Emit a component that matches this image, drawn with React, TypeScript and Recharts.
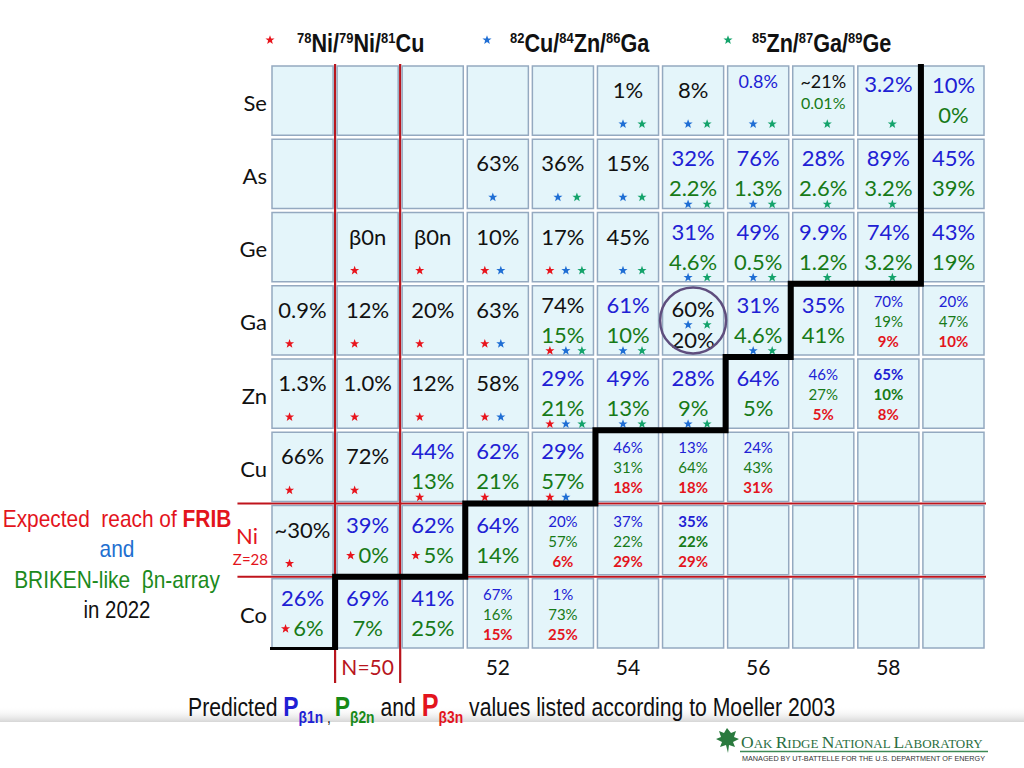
import React from "react"
import { ScatterChart, Scatter, XAxis, YAxis, ReferenceLine, ReferenceDot } from "recharts"

const N_VALUES = [49, 50, 51, 52, 53, 54, 55, 56, 57, 58, 59]
const Z_VALUES = [27, 28, 29, 30, 31, 32, 33, 34]
const ELEMENTS = ["Co", "Ni", "Cu", "Zn", "Ga", "Ge", "As", "Se"]
const N_TICKS = [50, 52, 54, 56, 58]

// first line of each cell: [N, Z, value, measured]
const P1N: [number, number, string, boolean?][] = [
  [54, 34, "1%", true], [55, 34, "8%", true], [56, 34, "0.8%"], [57, 34, "~21%", true], [58, 34, "3.2%"], [59, 34, "10%"],
  [52, 33, "63%", true], [53, 33, "36%", true], [54, 33, "15%", true], [55, 33, "32%"], [56, 33, "76%"], [57, 33, "28%"], [58, 33, "89%"], [59, 33, "45%"],
  [50, 32, "β0n", true], [51, 32, "β0n", true], [52, 32, "10%", true], [53, 32, "17%", true], [54, 32, "45%", true], [55, 32, "31%"], [56, 32, "49%"], [57, 32, "9.9%"], [58, 32, "74%"], [59, 32, "43%"],
  [49, 31, "0.9%", true], [50, 31, "12%", true], [51, 31, "20%", true], [52, 31, "63%", true], [53, 31, "74%", true], [54, 31, "61%"], [55, 31, "60%", true], [56, 31, "31%"], [57, 31, "35%"], [58, 31, "70%"], [59, 31, "20%"],
  [49, 30, "1.3%", true], [50, 30, "1.0%", true], [51, 30, "12%", true], [52, 30, "58%", true], [53, 30, "29%"], [54, 30, "49%"], [55, 30, "28%"], [56, 30, "64%"], [57, 30, "46%"], [58, 30, "65%"],
  [49, 29, "66%", true], [50, 29, "72%", true], [51, 29, "44%"], [52, 29, "62%"], [53, 29, "29%"], [54, 29, "46%"], [55, 29, "13%"], [56, 29, "24%"],
  [49, 28, "~30%", true], [50, 28, "39%"], [51, 28, "62%"], [52, 28, "64%"], [53, 28, "20%"], [54, 28, "37%"], [55, 28, "35%"],
  [49, 27, "26%"], [50, 27, "69%"], [51, 27, "41%"], [52, 27, "67%"], [53, 27, "1%"],
]

// second line: P(beta 2n)
const P2N: [number, number, string, boolean?][] = [
  [57, 34, "0.01%"], [59, 34, "0%"],
  [55, 33, "2.2%"], [56, 33, "1.3%"], [57, 33, "2.6%"], [58, 33, "3.2%"], [59, 33, "39%"],
  [55, 32, "4.6%"], [56, 32, "0.5%"], [57, 32, "1.2%"], [58, 32, "3.2%"], [59, 32, "19%"],
  [53, 31, "15%"], [54, 31, "10%"], [55, 31, "20%", true], [56, 31, "4.6%"], [57, 31, "41%"], [58, 31, "19%"], [59, 31, "47%"],
  [53, 30, "21%"], [54, 30, "13%"], [55, 30, "9%"], [56, 30, "5%"], [57, 30, "27%"], [58, 30, "10%"],
  [51, 29, "13%"], [52, 29, "21%"], [53, 29, "57%"], [54, 29, "31%"], [55, 29, "64%"], [56, 29, "43%"],
  [50, 28, "0%"], [51, 28, "5%"], [52, 28, "14%"], [53, 28, "57%"], [54, 28, "22%"], [55, 28, "22%"],
  [49, 27, "6%"], [50, 27, "7%"], [51, 27, "25%"], [52, 27, "16%"], [53, 27, "73%"],
]

// third line: P(beta 3n)
const P3N: [number, number, string][] = [
  [58, 31, "9%"], [59, 31, "10%"],
  [57, 30, "5%"], [58, 30, "8%"],
  [54, 29, "18%"], [55, 29, "18%"], [56, 29, "31%"],
  [53, 28, "6%"], [54, 28, "29%"], [55, 28, "29%"],
  [52, 27, "15%"], [53, 27, "25%"],
]

// r = 78Ni/79Ni/81Cu, b = 82Cu/84Zn/86Ga, g = 85Zn/87Ga/89Ge
const STARS: [number, number, string][] = [
  [54, 34, "bg"], [55, 34, "bg"], [56, 34, "bg"], [57, 34, "g"], [58, 34, "g"],
  [52, 33, "b"], [53, 33, "bg"], [54, 33, "bg"], [55, 33, "bg"], [56, 33, "bg"], [57, 33, "g"], [58, 33, "g"],
  [50, 32, "r"], [51, 32, "r"], [52, 32, "rb"], [53, 32, "rbg"], [54, 32, "bg"], [55, 32, "bg"], [56, 32, "bg"], [57, 32, "g"], [58, 32, "g"],
  [49, 31, "r"], [50, 31, "r"], [51, 31, "r"], [52, 31, "rb"], [53, 31, "rbg"], [54, 31, "bg"], [55, 31, "bg"], [56, 31, "bg"],
  [49, 30, "r"], [50, 30, "r"], [51, 30, "r"], [52, 30, "rb"], [53, 30, "rbg"], [54, 30, "bg"], [55, 30, "bg"],
  [49, 29, "r"], [50, 29, "r"], [51, 29, "r"], [52, 29, "r"], [53, 29, "rb"],
  [49, 28, "r"], [50, 28, "r"], [51, 28, "r"],
  [49, 27, "r"],
]

const BOLD_CELLS = ["55-28", "58-30"]
const INLINE_STAR = ["49-27", "50-28", "51-28"]
const SMALL_CELLS = ["56-34", "57-34"]

// reach boundary
const STAIRS = [
  { n: 48.47, z: 26.5 }, { n: 49.5, z: 26.5 }, { n: 49.5, z: 27.5 }, { n: 51.5, z: 27.5 },
  { n: 51.5, z: 28.5 }, { n: 53.5, z: 28.5 }, { n: 53.5, z: 29.5 }, { n: 55.5, z: 29.5 },
  { n: 55.5, z: 30.5 }, { n: 56.5, z: 30.5 }, { n: 56.5, z: 31.5 }, { n: 58.5, z: 31.5 },
  { n: 58.5, z: 34.58 },
]

const PLOT_L = 270
const PLOT_R = 986
const PLOT_T = 64
const PLOT_B = 650
const CELL_W = (PLOT_R - PLOT_L) / N_VALUES.length
const CELL_H = (PLOT_B - PLOT_T) / Z_VALUES.length

const FONT = "Lato, 'Open Sans', sans-serif"
const SANS = "'Liberation Sans', Arial, sans-serif"
const BLACK = "#111"
const BLUE = "#2020d4"
const GREEN = "#177a17"
const RED = "#e3141c"
const DARKRED = "#b8151d"
const STAR_COLORS: Record<string, string> = { r: "#e8141c", b: "#1f6ed4", g: "#14a36b" }

const toMap = (rows: any[]) => {
  const m = new Map<string, any>()
  rows.forEach((r) => m.set(`${r[0]}-${r[1]}`, { v: r[2], measured: !!r[3] }))
  return m
}
const P1_MAP = toMap(P1N)
const P2_MAP = toMap(P2N)
const P3_MAP = toMap(P3N)
const STAR_MAP = new Map(STARS.map((s) => [`${s[0]}-${s[1]}`, s[2]]))

const GRID = Z_VALUES.flatMap((z) => N_VALUES.map((n) => ({ n, z })))

function starPath(x: number, y: number, R = 4.8, r = 2) {
  const pts: string[] = []
  for (let i = 0; i < 10; i++) {
    const a = -Math.PI / 2 + (i * Math.PI) / 5
    const rad = i % 2 === 0 ? R : r
    pts.push(`${(x + rad * Math.cos(a)).toFixed(2)},${(y + rad * Math.sin(a)).toFixed(2)}`)
  }
  return `M${pts.join("L")}Z`
}

function Star({ x, y, c }: { x: number; y: number; c: string }) {
  return <path d={starPath(x, y)} fill={STAR_COLORS[c]} />
}

function CellShape(props: any) {
  const { cx, cy, payload } = props
  if (cx == null || cy == null) return <g />
  const key = `${payload.n}-${payload.z}`
  const x0 = cx - CELL_W / 2
  const y0 = cy - CELL_H / 2
  const p1 = P1_MAP.get(key)
  const p2 = P2_MAP.get(key)
  const p3 = P3_MAP.get(key)
  const stars: string = STAR_MAP.get(key) || ""
  const bold = BOLD_CELLS.includes(key)
  const small = SMALL_CELLS.includes(key)
  const inline = INLINE_STAR.includes(key)
  const out: React.ReactNode[] = []

  if (p3) {
    const ys = [23, 43, 63]
    const cols = [BLUE, GREEN, RED]
    ;[p1, p2, p3].forEach((p, i) =>
      out.push(
        <text key={i} x={cx} y={y0 + ys[i]} textAnchor="middle" fontSize={15} fontFamily={FONT}
          fontWeight={bold || i === 2 ? 700 : 400} fill={cols[i]}>{p.v}</text>
      )
    )
  } else {
    const both = p1 && p2 && p1.measured && p2.measured
    let y1 = p2 ? (both ? 33 : 29) : p1 && p1.measured ? 34 : 28
    let y2 = both ? 64 : 59
    let f1 = 22
    let f2 = 22
    if (small) {
      y1 = 24
      y2 = 45
      f1 = 18
      f2 = 16
    }
    if (p1)
      out.push(
        <text key="a" x={cx} y={y0 + y1} textAnchor="middle" fontSize={f1} fontFamily={FONT}
          fill={p1.measured ? BLACK : BLUE}>{p1.v}</text>
      )
    if (p2)
      out.push(
        <text key="b" x={cx + (inline ? 6 : 0)} y={y0 + y2} textAnchor="middle" fontSize={f2} fontFamily={FONT}
          fill={p2.measured ? BLACK : GREEN}>{p2.v}</text>
      )
  }

  if (stars) {
    const hasR = stars.includes("r")
    const hasB = stars.includes("b")
    let sy = y0 + (p2 && !p3 ? 67 : 60)
    if (small) sy = y0 + 60
    if (p1 && p2 && p1.measured && p2.measured) sy = y0 + 41
    stars.split("").forEach((c) => {
      let dx = 0
      if (c === "r") dx = inline ? -17 : -13
      if (c === "b") dx = hasR ? 3 : -5
      if (c === "g") dx = hasR ? 19 : hasB ? 14 : 4
      const yy = inline ? y0 + 52 : sy
      out.push(<Star key={"s" + c} x={cx + dx} y={yy} c={c} />)
    })
  }

  return (
    <g>
      <rect x={x0 + 2} y={y0 + 2} width={CELL_W - 4} height={CELL_H - 4} fill="#e4f5fa" stroke="#94a9c0" strokeWidth={1.5} />
      {out}
    </g>
  )
}

function ZTick(props: any) {
  const { x, y, payload } = props
  const z = payload.value
  const name = ELEMENTS[Z_VALUES.indexOf(z)]
  if (z === 28)
    return (
      <g>
        <text x={x - 12} y={y + 4} textAnchor="end" fontSize={22} fontFamily={FONT} fill={RED}>{name}</text>
        <text x={x - 2} y={y + 25} textAnchor="end" fontSize={15} fontFamily={FONT} fill={RED}>Z=28</text>
      </g>
    )
  return (
    <text x={x - 3} y={y + 10} textAnchor="end" fontSize={22} fontFamily={FONT} fill={BLACK}>{name}</text>
  )
}

function NTick(props: any) {
  const { x, y, payload } = props
  const v = payload.value
  return (
    <text x={x} y={y + 25} textAnchor="middle" fontSize={21} fontFamily={FONT} fill={v === 50 ? DARKRED : BLACK}>
      {v === 50 ? "N=50" : v}
    </text>
  )
}

// narrow slide lettering: Liberation Sans squeezed horizontally
function Narrow({ x, y, sx, anchor, children, ...rest }: any) {
  return (
    <g transform={`translate(${x},${y}) scale(${sx},1)`}>
      <text x={0} y={0} textAnchor={anchor || "start"} fontFamily={SANS} {...rest}>{children}</text>
    </g>
  )
}

function Header() {
  const groups = [
    { x: 297, star: "r", sx: 270, parts: [["78", "Ni/"], ["79", "Ni/"], ["81", "Cu"]] },
    { x: 510, star: "b", sx: 487, parts: [["82", "Cu/"], ["84", "Zn/"], ["86", "Ga"]] },
    { x: 752, star: "g", sx: 728, parts: [["85", "Zn/"], ["87", "Ga/"], ["89", "Ge"]] },
  ]
  return (
    <g>
      {groups.map((g, i) => (
        <g key={i}>
          <Star x={g.sx} y={40} c={g.star} />
          <Narrow x={g.x} y={52} sx={0.865} fontWeight={700} fill={BLACK}>
            {g.parts.map((p, j) => (
              <React.Fragment key={j}>
                <tspan fontSize={15} dy={-9}>{p[0]}</tspan>
                <tspan fontSize={25} dy={9}>{p[1]}</tspan>
              </React.Fragment>
            ))}
          </Narrow>
        </g>
      ))}
    </g>
  )
}

function Annotations() {
  return (
    <svg width={1024} height={768} style={{ position: "absolute", left: 0, top: 0, pointerEvents: "none" }}>
      <defs>
        <linearGradient id="band" x1="0" y1="0" x2="0" y2="1">
          <stop offset="0" stopColor="#ffffff" stopOpacity={0} />
          <stop offset="1" stopColor="#d6d6d6" />
        </linearGradient>
      </defs>
      <Header />
      <Narrow x={117} y={527} sx={0.87} anchor="middle" fontSize={24} fill={RED}>
        {"Expected\u00a0 reach of "}<tspan fontWeight={700}>FRIB</tspan>
      </Narrow>
      <Narrow x={117} y={557} sx={0.87} anchor="middle" fontSize={24} fill="#1e6fd0">and</Narrow>
      <Narrow x={117} y={588} sx={0.87} anchor="middle" fontSize={24} fill="#1c8a1c">{"BRIKEN-like\u00a0 βn-array"}</Narrow>
      <Narrow x={117} y={618} sx={0.85} anchor="middle" fontSize={24} fill={BLACK}>in 2022</Narrow>
      <rect x={0} y={706} width={1024} height={16} fill="url(#band)" />
      <Narrow x={188} y={716} sx={0.815} fontSize={26} fill={BLACK}>
        {"Predicted "}
        <tspan fill={BLUE} fontWeight={700} fontSize={28}>P</tspan>
        <tspan fill={BLUE} fontWeight={700} fontSize={17} dy={7}>β1n</tspan>
        <tspan fontSize={17}>{" , "}</tspan>
        <tspan fill="#178a17" fontWeight={700} fontSize={28} dy={-7}>P</tspan>
        <tspan fill="#178a17" fontWeight={700} fontSize={17} dy={7}>β2n</tspan>
        <tspan dy={-7}>{" and "}</tspan>
        <tspan fill={RED} fontWeight={700} fontSize={31}>P</tspan>
        <tspan fill={RED} fontWeight={700} fontSize={17} dy={7}>β3n</tspan>
        <tspan dy={-7}>{" values listed according to Moeller 2003"}</tspan>
      </Narrow>
      <path d="M727 728 L731 733 L736 731 L734 737 L739 739 L733 742 L735 747 L729 745 L728 753 L726 745 L720 747 L722 742 L716 739 L721 737 L719 731 L724 733 Z" fill="#2a7a3e" />
      <text x={741} y={748} fontFamily="'Liberation Serif', serif" fill="#2a6e3f">
        <tspan fontSize={17.5}>O</tspan><tspan fontSize={13}>AK </tspan>
        <tspan fontSize={17.5}>R</tspan><tspan fontSize={13}>IDGE </tspan>
        <tspan fontSize={17.5}>N</tspan><tspan fontSize={13}>ATIONAL </tspan>
        <tspan fontSize={17.5}>L</tspan><tspan fontSize={13}>ABORATORY</tspan>
      </text>
      <line x1={740} x2={988} y1={751.5} y2={751.5} stroke="#3d8a55" strokeWidth={1.3} />
      <text x={742} y={761} fontFamily={SANS} fontSize={7} fill="#333" textLength={243} lengthAdjust="spacingAndGlyphs">
        MANAGED BY UT-BATTELLE FOR THE U.S. DEPARTMENT OF ENERGY
      </text>
    </svg>
  )
}

export default function App() {
  return (
    <div style={{ position: "absolute", left: 0, top: 0, width: 1024, height: 768, background: "#fff", overflow: "hidden" }}>
      <ScatterChart width={1024} height={768} margin={{ top: PLOT_T, right: 1024 - PLOT_R, bottom: 768 - PLOT_B - 40, left: PLOT_L - 60 }}>
        <XAxis type="number" dataKey="n" domain={[48.5, 59.5]} ticks={N_TICKS} axisLine={false} tickLine={false}
          tickSize={0} tickMargin={0} height={40} tick={<NTick />} interval={0} allowDataOverflow />
        <YAxis type="number" dataKey="z" domain={[26.5, 34.5]} ticks={Z_VALUES} axisLine={false} tickLine={false}
          tickSize={0} tickMargin={0} width={60} tick={<ZTick />} interval={0} allowDataOverflow />
        <Scatter data={GRID} shape={<CellShape />} isAnimationActive={false} />
        <ReferenceLine segment={[{ x: 49.5, y: 34.5 }, { x: 49.5, y: 26.05 }]} stroke={DARKRED} strokeWidth={2.2} ifOverflow="visible" />
        <ReferenceLine segment={[{ x: 50.5, y: 34.5 }, { x: 50.5, y: 26.05 }]} stroke={DARKRED} strokeWidth={2.2} ifOverflow="visible" />
        <ReferenceLine segment={[{ x: 48.0, y: 28.5 }, { x: 59.5, y: 28.5 }]} stroke="#c0141c" strokeWidth={2} ifOverflow="visible" />
        <ReferenceLine segment={[{ x: 48.0, y: 27.5 }, { x: 59.5, y: 27.5 }]} stroke="#c0141c" strokeWidth={2} ifOverflow="visible" />
        <Scatter data={STAIRS} line={{ stroke: "#000", strokeWidth: 6 }} lineType="joint" shape={() => <g />} isAnimationActive={false} />
        <ReferenceDot x={55} y={31} r={33} fill="none" stroke="#5f4e7e" strokeWidth={2.5} ifOverflow="visible" />
      </ScatterChart>
      <Annotations />
    </div>
  )
}
